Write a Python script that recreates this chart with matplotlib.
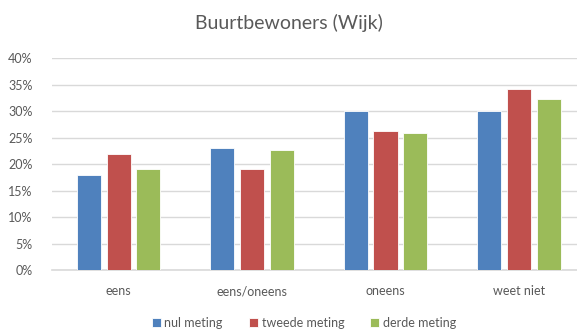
import numpy as np
import matplotlib.pyplot as plt
from matplotlib.ticker import PercentFormatter

plt.rcParams['font.family'] = ['Lato', 'DejaVu Sans']

categories = ["eens", "eens/oneens", "oneens", "weet niet"]
series_names = ["nul meting", "tweede meting", "derde meting"]
nul_meting = [17.9, 23.0, 30.0, 30.0]
tweede_meting = [22.0, 19.1, 26.3, 34.2]
derde_meting = [19.1, 22.7, 25.9, 32.3]
colors = ["#4F81BD", "#C0504D", "#9BBB59"]

fig = plt.figure(figsize=(5.77, 3.29), dpi=100)
ax = fig.add_axes([0.09, 0.179, 0.925, 0.644])

x = np.arange(len(categories))
width = 0.18
step = 0.222
for i, (vals, name) in enumerate(zip([nul_meting, tweede_meting, derde_meting], series_names)):
    ax.bar(x + (i - 1) * step, np.array(vals) / 100, width, color=colors[i],
           edgecolor="white", linewidth=0.6, label=name, zorder=3)

ax.set_ylim(0, 0.40)
ax.set_xlim(-0.5, len(categories) - 0.5)
ax.set_yticks(np.arange(0, 0.41, 0.05))
ax.yaxis.set_major_formatter(PercentFormatter(1.0, decimals=0))
ax.set_xticks(x)
ax.set_xticklabels(categories)
ax.grid(axis="y", color="#D9D9D9", linewidth=1.0, zorder=0)
for side in ["top", "right", "left"]:
    ax.spines[side].set_visible(False)
ax.spines["bottom"].set_color("#D9D9D9")
ax.spines["bottom"].set_linewidth(1.2)
ax.tick_params(axis="both", length=0, labelsize=9, colors="#595959")
ax.tick_params(axis="x", pad=11)
ax.tick_params(axis="y", pad=14)

fig.text(0.5, 0.93, "Buurtbewoners (Wijk)", ha="center", va="center",
         fontsize=14, color="#595959")

fig.legend(loc="center", bbox_to_anchor=(0.527, 0.018), ncol=3, frameon=False,
           fontsize=9, labelcolor="#595959", handlelength=0.7, handleheight=0.7,
           handletextpad=0.3, columnspacing=2.1)

plt.savefig("out.png", dpi=100)
